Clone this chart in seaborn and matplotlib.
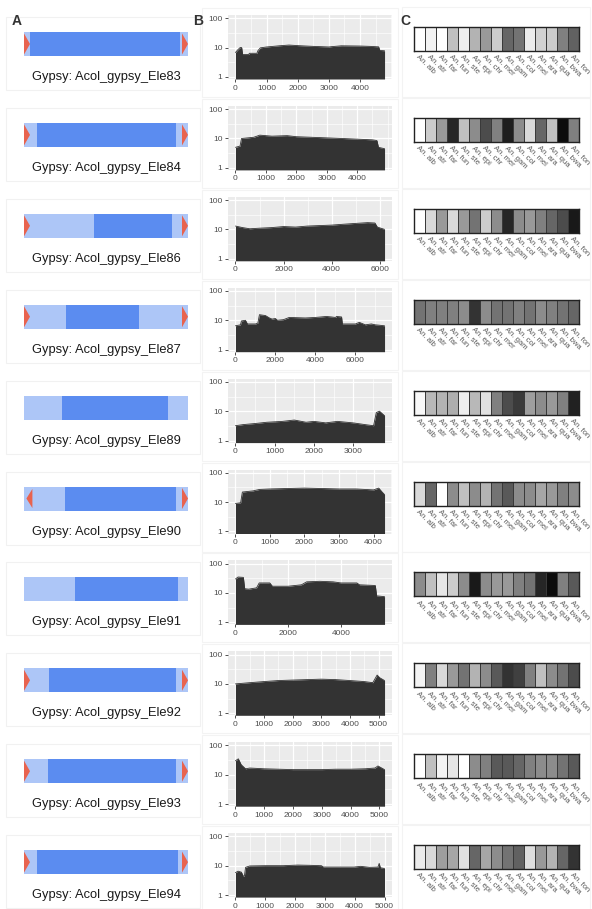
import numpy as np
import matplotlib
matplotlib.use("Agg")
import matplotlib.pyplot as plt
from matplotlib.ticker import MultipleLocator, FixedLocator, FuncFormatter, NullFormatter
from matplotlib.patches import Rectangle, Polygon
import seaborn as sns

sns.set_theme(style="white")
plt.rcParams["font.family"] = ["Liberation Sans", "DejaVu Sans"]

# ---------------- data ----------------
element_names = ["Acol_gypsy_Ele83", "Acol_gypsy_Ele84", "Acol_gypsy_Ele86",
                 "Acol_gypsy_Ele87", "Acol_gypsy_Ele89", "Acol_gypsy_Ele90",
                 "Acol_gypsy_Ele91", "Acol_gypsy_Ele92", "Acol_gypsy_Ele93",
                 "Acol_gypsy_Ele94"]
element_lengths = [4790, 4900, 6200, 7460, 3800, 4320, 5650, 5210, 5180, 5000]
tick_steps = [1000, 1000, 2000, 2000, 1000, 1000, 2000, 1000, 1000, 1000]

# internal (coding) region as fraction of element length
core_start = [0.037, 0.08, 0.427, 0.256, 0.23, 0.25, 0.31, 0.15, 0.146, 0.08]
core_end = [0.95, 0.927, 0.902, 0.70, 0.878, 0.927, 0.94, 0.927, 0.927, 0.94]
# LTR markers: direction of the left-end arrow, None if no LTR
ltr_left = ["right", "right", "right", "right", None, "left", None, "right", "right", "right"]
ltr_right = ["right", "right", "right", "right", None, "right", None, "right", "right", "right"]

# read-depth profiles along each element
ele83_pos = [0, 80, 150, 200, 230, 420, 450, 690, 720, 800, 1000, 1400, 1720, 2050, 2500, 3000, 3100, 3400, 4000, 4330, 4600, 4640, 4790]
ele83_cov = [6.8, 8.5, 10, 10, 5.8, 5.8, 6.4, 6.4, 7.8, 9.8, 10.5, 11.5, 12.2, 11.6, 11, 10.5, 10.8, 11.5, 11.3, 11, 10.6, 8, 7.8]
ele84_pos = [0, 150, 200, 600, 800, 1200, 1700, 2000, 2500, 3000, 3500, 4000, 4500, 4650, 4700, 4900]
ele84_cov = [5, 5.5, 10, 11, 13, 12, 12.5, 11.5, 11, 10.5, 10, 9.5, 9, 8.5, 5, 4.5]
ele86_pos = [0, 300, 600, 1000, 1500, 2000, 2500, 3000, 3500, 4000, 4500, 5000, 5500, 5800, 5900, 6200]
ele86_cov = [13, 11.5, 10.5, 11, 11.5, 12.5, 12, 13, 13.5, 14, 15, 16, 17, 16.5, 12, 10]
ele87_pos = [0, 250, 300, 500, 600, 1000, 1120, 1200, 1500, 1700, 1830, 2000, 2100, 2400, 2690, 3500, 4000, 4550, 4800, 5000, 5060, 5310, 5350, 6000, 6200, 6500, 6800, 7000, 7200, 7460]
ele87_cov = [6.5, 7, 9.5, 10, 7.5, 7.5, 8, 15.5, 14.5, 12, 11, 11.5, 10, 10.5, 12.5, 12, 12.5, 13.5, 13, 12.5, 13.5, 13, 7.5, 7.5, 8.5, 7, 7.5, 7, 6.8, 6.5]
ele89_pos = [0, 200, 500, 800, 1200, 1500, 1800, 2000, 2300, 2600, 3000, 3300, 3520, 3590, 3670, 3800]
ele89_cov = [3.2, 3.5, 3.8, 4.2, 4.5, 5, 4.2, 4.5, 4, 4.5, 4, 3.5, 3.2, 9, 10, 7]
ele90_pos = [0, 150, 200, 500, 700, 1000, 1500, 2000, 2500, 3000, 3500, 4000, 4150, 4250, 4320]
ele90_cov = [9, 9.5, 22, 24, 27, 28, 29, 30, 29, 28, 28, 26, 30, 22, 18]
ele91_pos = [0, 100, 300, 350, 500, 800, 900, 1300, 1400, 2000, 2500, 2700, 3200, 3700, 4000, 4600, 4700, 5300, 5350, 5650]
ele91_cov = [30, 35, 34, 14, 13.5, 15, 22, 22, 17, 17, 19, 24, 25, 24, 22, 22, 19, 18, 8, 7.5]
ele92_pos = [0, 500, 1000, 1500, 2000, 2500, 3000, 3500, 4000, 4500, 4800, 4950, 5050, 5210]
ele92_cov = [10, 11, 12, 13, 13.5, 14, 14.5, 14, 13, 12, 11, 20, 16, 13]
ele93_pos = [0, 100, 200, 350, 500, 1000, 1500, 2000, 2500, 3000, 3500, 4000, 4500, 4850, 4950, 5180]
ele93_cov = [30, 35, 22, 16, 17, 16, 15.5, 15, 15, 15, 15.5, 15.5, 16, 17, 20, 15]
ele94_pos = [0, 90, 200, 260, 300, 340, 480, 1000, 1600, 2090, 2500, 2880, 2950, 3500, 3980, 4200, 4500, 4780, 4820, 4860, 5000]
ele94_cov = [5.8, 6.5, 6, 4.4, 4.5, 8.8, 9.8, 10, 10, 10.5, 10.3, 10, 9, 9, 9, 9.5, 8.8, 9, 12, 8.5, 8]

species = ["An. alb", "An. atr", "An. far", "An. fun", "An. ste", "An. epi",
           "An. chr", "An. mer", "An. gam", "An. col", "An. mel", "An. ara",
           "An. qua", "An. bwa", "An. fon"]
# grey level per species (1 = white, 0 = black)
sh83 = [1.0, 0.95, 1.0, 0.75, 0.93, 0.7, 0.6, 0.8, 0.4, 0.45, 0.92, 0.82, 0.8, 0.5, 0.38]
sh84 = [1.0, 0.8, 0.6, 0.15, 0.75, 0.55, 0.3, 0.5, 0.12, 0.55, 0.85, 0.4, 0.75, 0.05, 0.5]
sh86 = [1.0, 0.85, 0.6, 0.85, 0.6, 0.45, 0.8, 0.55, 0.15, 0.55, 0.6, 0.5, 0.4, 0.3, 0.1]
sh87 = [0.45, 0.5, 0.5, 0.5, 0.55, 0.2, 0.55, 0.45, 0.45, 0.5, 0.45, 0.55, 0.5, 0.45, 0.4]
sh89 = [0.97, 0.72, 0.7, 0.68, 0.93, 0.72, 0.88, 0.5, 0.3, 0.23, 0.62, 0.55, 0.6, 0.5, 0.13]
sh90 = [0.85, 0.4, 1.0, 0.55, 0.75, 0.55, 0.7, 0.45, 0.35, 0.55, 0.55, 0.65, 0.6, 0.5, 0.55]
sh91 = [0.55, 0.75, 0.9, 0.8, 0.55, 0.1, 0.55, 0.6, 0.6, 0.5, 0.45, 0.15, 0.05, 0.5, 0.35]
sh92 = [0.95, 0.5, 0.85, 0.6, 0.45, 0.7, 0.55, 0.35, 0.2, 0.25, 0.5, 0.75, 0.55, 0.45, 0.3]
sh93 = [1.0, 0.75, 0.95, 0.9, 1.0, 0.55, 0.5, 0.35, 0.35, 0.4, 0.5, 0.55, 0.55, 0.45, 0.35]
sh94 = [0.92, 0.85, 0.62, 0.65, 0.88, 0.4, 0.65, 0.55, 0.45, 0.38, 0.87, 0.6, 0.7, 0.4, 0.2]

profiles = [(ele83_pos, ele83_cov), (ele84_pos, ele84_cov), (ele86_pos, ele86_cov),
            (ele87_pos, ele87_cov), (ele89_pos, ele89_cov), (ele90_pos, ele90_cov),
            (ele91_pos, ele91_cov), (ele92_pos, ele92_cov), (ele93_pos, ele93_cov),
            (ele94_pos, ele94_cov)]
shades = [sh83, sh84, sh86, sh87, sh89, sh90, sh91, sh92, sh93, sh94]

# ---------------- layout ----------------
W, H = 592, 909
PITCH = 90.9
fig = plt.figure(figsize=(W / 100, H / 100), dpi=100)
fig.patch.set_facecolor("white")


def px_axes(x, y, w, h):
    return fig.add_axes([x / W, 1 - (y + h) / H, w / W, h / H])


def px_rect(x, y, w, h, **kw):
    fig.patches.append(Rectangle((x / W, 1 - (y + h) / H), w / W, h / H,
                                 transform=fig.transFigure, fill=False, **kw))


LIGHT_BLUE = "#adc6f7"
DARK_BLUE = "#5b8cf0"
LTR_RED = "#e8634f"
AREA = "#333333"
TXT = "#4D4D4D"

for i in range(len(element_names)):
    dy = PITCH * i

    # faint frames around each row cell
    px_rect(6, 17 + dy, 194, 73, edgecolor="#f1f1f1", lw=0.8)
    px_rect(202, 8 + dy, 196, 89, edgecolor="#f3f3f3", lw=0.8)
    px_rect(402, 7 + dy, 188, 90, edgecolor="#f3f3f3", lw=0.8)

    # ---- A: element structure ----
    axA = px_axes(24, 32 + dy, 164, 24)
    axA.set_xlim(0, 1)
    axA.set_ylim(0, 1)
    axA.axis("off")
    axA.add_patch(Rectangle((0, 0), 1, 1, color=LIGHT_BLUE, lw=0))
    axA.add_patch(Rectangle((core_start[i], 0), core_end[i] - core_start[i], 1,
                            color=DARK_BLUE, lw=0))
    tw = 6 / 164
    if ltr_left[i] == "right":
        axA.add_patch(Polygon([(0, 0.06), (0, 0.94), (tw, 0.5)], color=LTR_RED, lw=0))
    elif ltr_left[i] == "left":
        axA.add_patch(Polygon([(tw * 1.4, 0.1), (tw * 1.4, 0.9), (tw * 0.4, 0.5)],
                              color=LTR_RED, lw=0))
    if ltr_right[i] == "right":
        axA.add_patch(Polygon([(1 - tw, 0.06), (1 - tw, 0.94), (1, 0.5)], color=LTR_RED, lw=0))
    fig.text(106 / W, 1 - (77 + dy) / H, "Gypsy: " + element_names[i],
             ha="center", va="center", fontsize=9.3, color="#1a1a1a")

    # ---- B: read depth ----
    axB = px_axes(228, 15 + dy, 164, 64)
    axB.set_facecolor("#EBEBEB")
    axB.set_yscale("log")
    ymin, ymax = 10 ** -0.07, 10 ** 2.11
    pos, cov = profiles[i]
    axB.fill_between(pos, cov, ymin, color=AREA, lw=0, zorder=2)
    sns.lineplot(x=pos, y=cov, ax=axB, color=AREA, lw=0.6, estimator=None,
                 sort=False, zorder=3)
    L = element_lengths[i]
    step = tick_steps[i]
    axB.set_xlim(-0.05 * L, 1.05 * L)
    axB.set_ylim(ymin, ymax)
    axB.set_xlabel("")
    axB.set_ylabel("")
    axB.yaxis.set_major_locator(FixedLocator([1, 10, 100]))
    axB.yaxis.set_minor_locator(FixedLocator([10 ** 0.5, 10 ** 1.5]))
    axB.yaxis.set_major_formatter(FuncFormatter(lambda v, p: f"{v:g}"))
    axB.yaxis.set_minor_formatter(NullFormatter())
    axB.xaxis.set_major_locator(FixedLocator(list(range(0, L + 1, step))))
    axB.xaxis.set_minor_locator(MultipleLocator(step / 2))
    axB.xaxis.set_major_formatter(FuncFormatter(lambda v, p: f"{int(round(v))}"))
    axB.grid(which="major", color="white", lw=0.9)
    axB.grid(which="minor", color="white", lw=0.45)
    axB.set_axisbelow(True)
    for s in axB.spines.values():
        s.set_visible(False)
    axB.tick_params(which="major", length=2.5, width=0.6, color="#333333",
                    labelsize=6, labelcolor=TXT, pad=1.5, bottom=True, left=True)
    axB.tick_params(which="minor", length=0)

    # ---- C: presence across species ----
    axC = px_axes(414, 27 + dy, 165, 24)
    sns.heatmap(np.array([shades[i]]), ax=axC, cmap="gray", vmin=0, vmax=1,
                cbar=False, linewidths=0.6, linecolor="#3a3a3a",
                xticklabels=species, yticklabels=False)
    axC.tick_params(axis="x", length=0, pad=2, labelsize=5.5, labelcolor="#5a5a5a")
    for lab in axC.get_xticklabels():
        lab.set_rotation(-45)
        lab.set_ha("left")
        lab.set_va("top")
        lab.set_rotation_mode("anchor")
    for s in axC.spines.values():
        s.set_visible(True)
        s.set_color("#222222")
        s.set_linewidth(1.0)

# panel letters
for letter, x in [("A", 12), ("B", 193), ("C", 400)]:
    fig.text(x / W, 1 - 21 / H, letter, ha="left", va="center",
             fontsize=10, fontweight="bold", color="#333333")

fig.savefig("out.png", dpi=100, facecolor="white")
